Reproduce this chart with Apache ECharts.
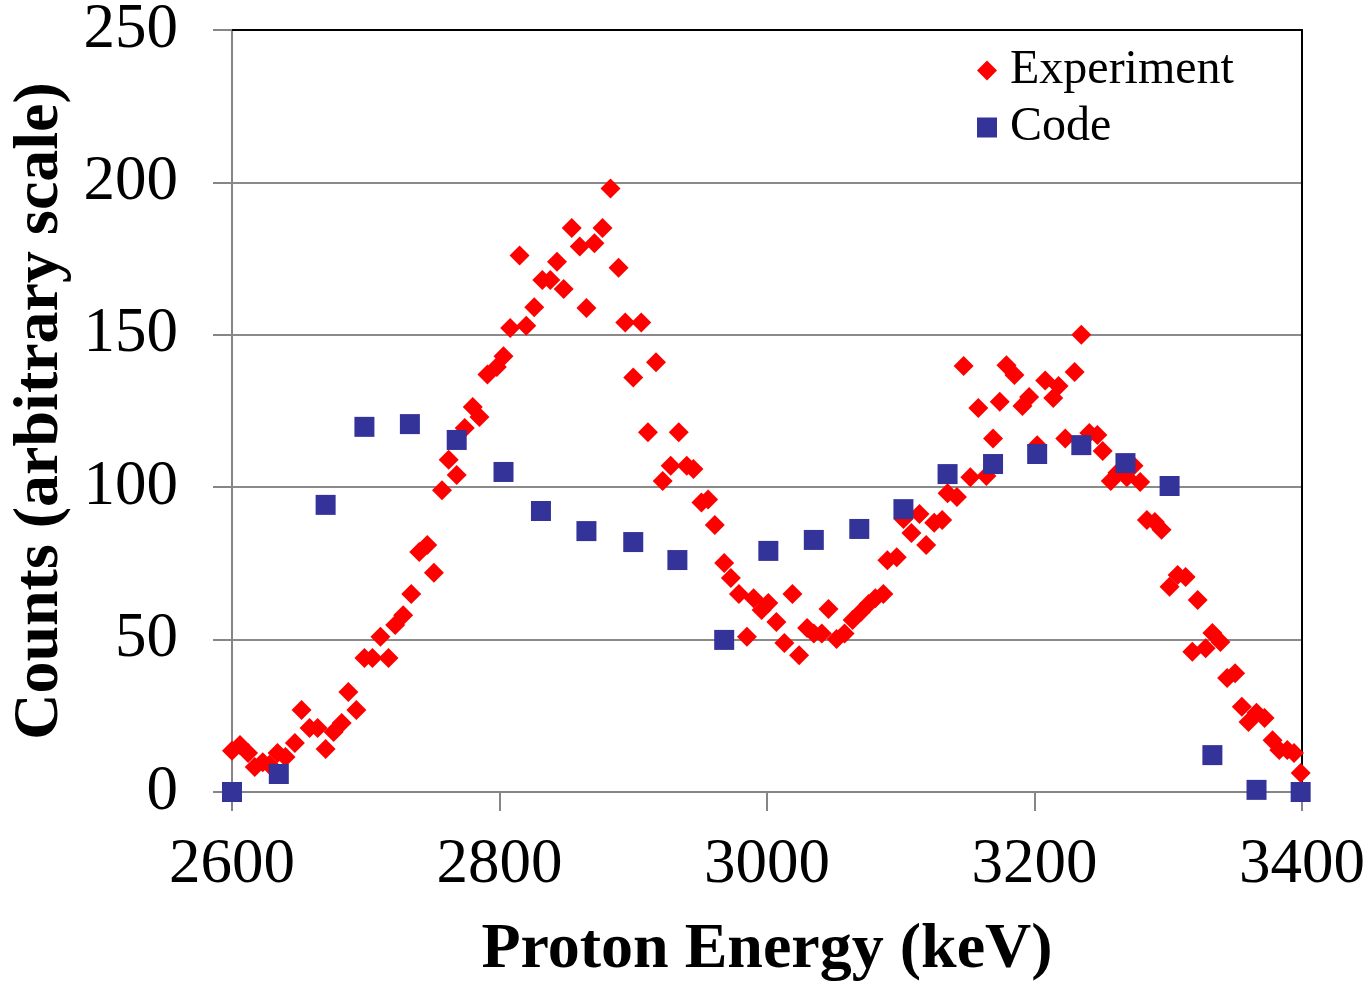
<!DOCTYPE html>
<html>
<head>
<meta charset="utf-8">
<script src="https://cdn.jsdelivr.net/npm/echarts@6/dist/echarts.min.js"></script>
<style>html,body{margin:0;padding:0;background:#fff}#c{width:1371px;height:982px}</style>
</head>
<body>
<div id="c"></div>
<script>
const seriesNames = ["Experiment", "Code"];
const xTitle = "Proton Energy (keV)";
const yTitle = "Counts (arbitrary scale)";

const expX = [2600,2606,2612,2617,2623,2628,2634,2640,2647,2652,2658,2664,2670,2676,2682,2687,2693,2699,2705,2711,2717,2722,2728,2734,2740,2746,2751,2757,2762,2768,2774,2780,2785,2791,2798,2803,2808,2815,2820,2826,2832,2838,2843,2848,2854,2860,2865,2871,2877,2883,2889,2894,2900,2906,2911,2917,2922,2928,2934,2940,2945,2951,2956,2961,2968,2973,2979,2985,2990,2996,3001,3007,3013,3019,3024,3030,3035,3041,3046,3052,3058,3064,3070,3076,3081,3087,3090,3097,3102,3108,3114,3119,3125,3131,3135,3142,3147,3152,3158,3164,3169,3174,3179,3185,3191,3196,3202,3208,3214,3218,3223,3230,3235,3241,3247,3251,3257,3262,3269,3274,3279,3284,3290,3295,3301,3307,3313,3318,3322,3328,3333,3339,3344,3350,3355,3360,3366,3372,3378,3383,3389,3394,3399];
const expY = [13.5,15.4,12.8,8.2,9.8,8.9,12.8,11.5,16.1,26.9,21,21,14.1,19.7,22.6,32.8,26.9,44,44,50.9,44,54.8,58,65,78.7,81,71.9,99,109,104,119.4,126.3,123,137,139.4,143,152.2,176,153,159,168,168,174,165,185,179,158.8,180,185,198,172,154,136,154,118,141,102,107,118,107,106,95,96,87.6,75.1,70.2,65,50.9,63.6,59.7,62,55.8,48.9,65,44.9,53.8,52,52,60,50.2,52,56.4,59,61.7,63.6,65,76,77,89.6,85,91.2,81,88.3,89.2,98,96.8,139.8,103.3,126,103.7,116,128,140,136.8,126.6,129.6,113.8,135,129.3,133.2,116,137.8,150,117.8,117.1,111.9,102,104.7,103.3,107,101.7,89.2,88.6,86,67.3,71.2,70.5,46,63,47.2,52.2,49.2,37.4,39,28,23,26,24.3,17,13.8,13.8,12.8,6.2];

const codeX = [2600,2635,2670,2699,2733,2768,2803,2831,2865,2900,2933,2968,3001,3035,3069,3102,3135,3169,3202,3235,3268,3301,3333,3366,3399];
const codeY = [0,5.9,94.2,119.8,120.7,115.5,105,92.2,85.6,82,76.1,49.9,79.1,82.7,86.3,92.8,104.3,107.6,110.9,113.8,107.9,100.4,12.1,0.7,0];

const xMin = 2600, xMax = 3400, xStep = 200;
const yMin = 0, yMax = 250, yStep = 50;

const serif = '"Liberation Serif","Times New Roman",serif';
const expData = expX.map((x, i) => [x, expY[i]]);
const codeData = codeX.map((x, i) => [x, codeY[i]]);

const chart = echarts.init(document.getElementById('c'), null, {renderer: 'canvas'});
chart.setOption({
  animation: false,
  backgroundColor: '#ffffff',
  textStyle: {fontFamily: serif, color: '#000'},
  grid: {left: 232, right: 69, top: 30, bottom: 190, containLabel: false, outerBoundsMode: 'none'},
  legend: {
    orient: 'vertical',
    left: 972, top: 37,
    itemWidth: 20, itemHeight: 20, itemGap: 0,
    textStyle: {fontFamily: serif, fontSize: 48, color: '#000', lineHeight: 57, padding: [0, 0, 0, 8]},
    data: [{name: seriesNames[0], icon: 'diamond'}, {name: seriesNames[1], icon: 'rect'}]
  },
  xAxis: [{
    type: 'value', min: xMin, max: xMax, interval: xStep,
    name: xTitle, nameLocation: 'middle', nameGap: 126,
    nameTextStyle: {fontFamily: serif, fontSize: 64, fontWeight: 'bold', color: '#000'},
    axisLine: {show: true, lineStyle: {color: '#868686', width: 2}},
    axisTick: {show: true, inside: false, length: 19, lineStyle: {color: '#868686', width: 2}},
    axisLabel: {fontFamily: serif, fontSize: 63, color: '#000', margin: 42, formatter: v => String(v)},
    splitLine: {show: false}
  }, {
    type: 'value', position: 'top', min: xMin, max: xMax, interval: xStep,
    axisLine: {show: true, onZero: false, lineStyle: {color: '#000', width: 2}},
    axisTick: {show: false}, axisLabel: {show: false}, splitLine: {show: false}
  }],
  yAxis: [{
    type: 'value', min: yMin, max: yMax, interval: yStep,
    name: yTitle, nameLocation: 'middle', nameGap: 155,
    nameTextStyle: {fontFamily: serif, fontSize: 64, fontWeight: 'bold', color: '#000'},
    axisLine: {show: true, lineStyle: {color: '#868686', width: 2}},
    axisTick: {show: true, inside: false, length: 19, lineStyle: {color: '#868686', width: 2}},
    axisLabel: {fontFamily: serif, fontSize: 63, color: '#000', margin: 54, formatter: v => String(v)},
    splitLine: {show: true, lineStyle: {color: '#8a8a8a', width: 2}}
  }, {
    type: 'value', position: 'right', min: yMin, max: yMax, interval: yStep,
    axisLine: {show: true, onZero: false, lineStyle: {color: '#000', width: 2}},
    axisTick: {show: false}, axisLabel: {show: false}, splitLine: {show: false}
  }],
  series: [{
    name: seriesNames[0], type: 'scatter', xAxisIndex: 0, yAxisIndex: 0,
    symbol: 'diamond', symbolSize: 20,
    itemStyle: {color: '#ff0000', opacity: 1},
    data: expData, z: 3
  }, {
    name: seriesNames[1], type: 'scatter', xAxisIndex: 0, yAxisIndex: 0,
    symbol: 'rect', symbolSize: 20,
    itemStyle: {color: '#333399', opacity: 1},
    data: codeData, z: 4
  }]
});
</script>
</body>
</html>
